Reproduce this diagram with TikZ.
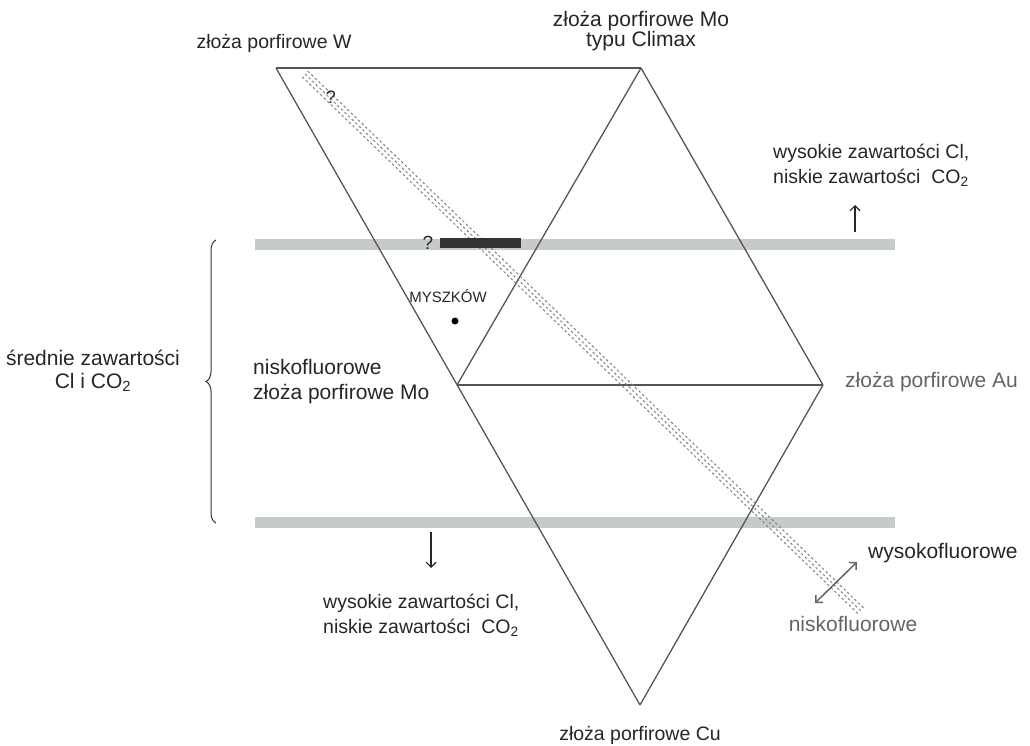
\documentclass[tikz,border=0pt]{standalone}
\usepackage{fontspec}
\setmainfont{Liberation Sans}
\usetikzlibrary{calc,positioning,arrows.meta,decorations.pathreplacing}

\definecolor{bandgray}{RGB}{198,202,200}
\definecolor{linegray}{RGB}{85,85,85}
\definecolor{dashgray}{RGB}{130,130,130}
\definecolor{textgray}{RGB}{100,100,100}

\begin{document}
\begin{tikzpicture}[x=1pt,y=-1pt,>={Straight Barb[length=5pt,width=10pt]}]
  \useasboundingbox (0,0) rectangle (1030,746);
  \tikzset{
    label/.style={font=\fontsize{21}{25}\selectfont, text=black!85, align=center, inner sep=0pt},
    labelgray/.style={label, text=textgray},
    cllabel/.style={label, font=\fontsize{19.5}{25}\selectfont, align=left, anchor=west},
    vertexlabel/.style={label, font=\fontsize{19.5}{23}\selectfont, anchor=base},
    small/.style={font=\fontsize{15}{18}\selectfont, text=black!85, inner sep=0pt},
    edgeline/.style={draw=linegray, line width=1.3pt},
    band/.style={draw=bandgray, line width=11pt},
    fluor/.style={draw=dashgray, line width=1pt, dash pattern=on 2.5pt off 2.5pt},
    clArrow/.style={->, draw=black!85, line width=1.2pt},
    fluorArrow/.style={<->, draw=textgray, line width=1.5pt}
  }

  %% vertices of the diagram
  \coordinate (vW) at (276,68);
  \coordinate (vClimax) at (641,68);
  \coordinate (vMo) at (457,385);
  \coordinate (vAu) at (823,385);
  \coordinate (vCu) at (640,705);

  %% Cl / CO2 bands
  \coordinate (bandTopL) at (255,244);
  \coordinate (bandTopR) at (895,244);
  \coordinate (bandBotL) at (255,522);
  \coordinate (bandBotR) at (895,522);
  \draw [band] (bandTopL) -- (bandTopR);
  \draw [band] (bandBotL) -- (bandBotR);

  %% triangles
  \draw [edgeline] (vW) -- (vClimax);
  \draw [edgeline] (vW) -- (vCu);
  \draw [edgeline] (vClimax) -- (vMo);
  \draw [edgeline] (vClimax) -- (vAu);
  \draw [edgeline] (vMo) -- (vAu);
  \draw [edgeline] (vAu) -- (vCu);

  %% fluorine trend (triple dashed)
  \coordinate (fluorA) at (305,74);
  \coordinate (fluorB) at (861,611);
  \foreach \s in {-4,0,4} {
    \draw [fluor, transform canvas={shift={(0.7*\s pt,0.72*\s pt)}}] (fluorA) -- (fluorB);
  }

  %% uncertain bar
  \node [label, font=\fontsize{19}{21}\selectfont] (qBar) at (428,243) {?};
  \coordinate (barL) at (440,243);
  \coordinate (barR) at (521,243);
  \draw [draw=black!80, line width=10pt] (barL) -- (barR);
  \node [label, font=\fontsize{18}{20}\selectfont] (qTop) at (331,97) {?};

  %% Myszkow
  \node [small] (myszkow) at (448,296) {MYSZKÓW};
  \node [circle, fill=black, inner sep=0pt, minimum size=7pt] (dotM) at (455,321) {};

  %% vertex labels
  \node [vertexlabel] (lW) at (274,49) {złoża porfirowe W};
  \node [label, font=\fontsize{21}{20}\selectfont] (lClimax) at (641,31) {złoża porfirowe Mo\\typu Climax};
  \node [label, align=left, anchor=west] (lMo) at (253,382) {niskofluorowe\\złoża porfirowe Mo};
  \node [labelgray, anchor=base west] (lAu) at (845,387) {złoża porfirowe Au};
  \node [vertexlabel] (lCu) at (640,740) {złoża porfirowe Cu};

  %% upper / lower Cl labels
  \node [cllabel] (lHighTop) at (773,165) {wysokie zawartości Cl,\\niskie zawartości\ \ CO\textsubscript{2}};
  \node [cllabel] (lHighBot) at (323,615) {wysokie zawartości Cl,\\niskie zawartości\ \ CO\textsubscript{2}};
  \coordinate (upA) at (855,232);
  \coordinate (upB) at (855,205);
  \draw [clArrow] (upA) -- (upB);
  \coordinate (downA) at (431,532);
  \coordinate (downB) at (431,568);
  \draw [clArrow] (downA) -- (downB);

  %% middle band
  \coordinate (braceBot) at (216,523);
  \coordinate (braceTop) at (216,240);
  \draw [draw=black!80, line width=1pt, decorate, decoration={brace, amplitude=10pt}] (braceBot) -- (braceTop);
  \node [label, font=\fontsize{21}{23}\selectfont] (lMid) at (93,371) {średnie zawartości\\Cl i CO\textsubscript{2}};

  %% fluorine labels
  \node [label, anchor=base west] (lHighF) at (868,558) {wysokofluorowe};
  \node [labelgray, anchor=base] (lLowF) at (853,631) {niskofluorowe};
  \coordinate (fA) at (815,603);
  \coordinate (fB) at (857,562);
  \draw [fluorArrow] (fA) -- (fB);
\end{tikzpicture}
\end{document}
